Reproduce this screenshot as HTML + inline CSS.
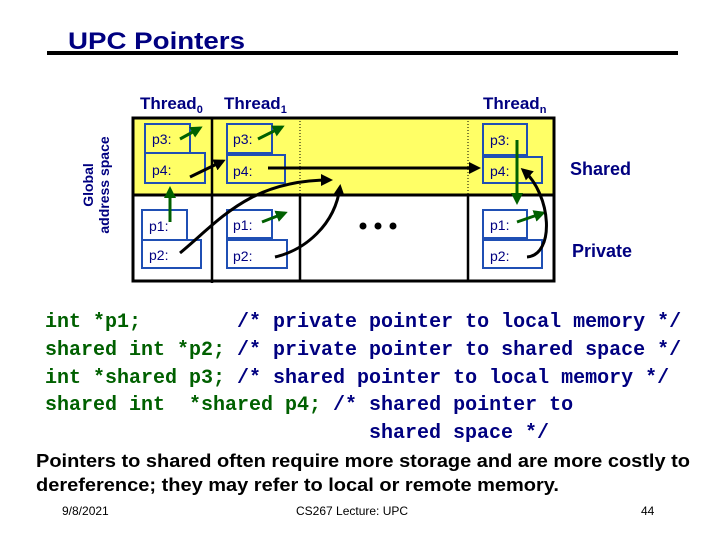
<!DOCTYPE html>
<html><head><style>
body{margin:0;background:#fff;}
svg{display:block;}
svg text{white-space:pre;}
</style></head><body>
<svg width="720" height="540" xmlns="http://www.w3.org/2000/svg" xml:space="preserve">
<defs>
<marker id="ab" markerWidth="4" markerHeight="4" refX="3" refY="2" orient="auto" markerUnits="strokeWidth"><path d="M0,0 L4,2 L0,4 z" fill="#000"/></marker>
<marker id="ag" markerWidth="4" markerHeight="4" refX="3" refY="2" orient="auto" markerUnits="strokeWidth"><path d="M0,0 L4,2 L0,4 z" fill="#006000"/></marker>
</defs>
<text x="68" y="49" font-family="Liberation Sans, sans-serif" font-weight="bold" font-size="24" fill="#000080" textLength="177" lengthAdjust="spacingAndGlyphs">UPC Pointers</text>
<line x1="47" y1="53" x2="678" y2="53" stroke="#000" stroke-width="4"/>
<g font-family="Liberation Sans, sans-serif" font-weight="bold" font-size="17" fill="#000080">
<text x="140" y="109">Thread<tspan font-size="11" dy="4">0</tspan></text>
<text x="224" y="109">Thread<tspan font-size="11" dy="4">1</tspan></text>
<text x="483" y="109">Thread<tspan font-size="11" dy="4">n</tspan></text>
</g>
<text transform="translate(93,185) rotate(-90)" text-anchor="middle" font-family="Liberation Sans, sans-serif" font-weight="bold" font-size="14" fill="#000080"><tspan x="0" y="0">Global</tspan><tspan x="0" y="16">address space</tspan></text>
<rect x="133" y="118" width="421" height="77" fill="#ffff66"/>
<line x1="300" y1="118" x2="300" y2="195" stroke="#000" stroke-dasharray="1,2"/>
<line x1="468" y1="118" x2="468" y2="195" stroke="#000" stroke-dasharray="1,2"/>
<rect x="133" y="118" width="421" height="163" fill="none" stroke="#000" stroke-width="3"/>
<line x1="133" y1="195" x2="554" y2="195" stroke="#000" stroke-width="3"/>
<line x1="212" y1="118" x2="212" y2="283" stroke="#000" stroke-width="2.5"/>
<line x1="300" y1="195" x2="300" y2="281" stroke="#000" stroke-width="2.5"/>
<line x1="468" y1="195" x2="468" y2="281" stroke="#000" stroke-width="2.5"/>
<g fill="none" stroke="#1f4fb4" stroke-width="2">
<rect x="145" y="124" width="45" height="29"/><rect x="145" y="153" width="60" height="30"/>
<rect x="142" y="210" width="45" height="30"/><rect x="142" y="240" width="59" height="28"/>
<rect x="227" y="124" width="45" height="29"/><rect x="227" y="155" width="58" height="28"/>
<rect x="227" y="210" width="45" height="28"/><rect x="227" y="240" width="60" height="28"/>
<rect x="483" y="124" width="44" height="31"/><rect x="483" y="157" width="59" height="26"/>
<rect x="483" y="210" width="44" height="28"/><rect x="483" y="240" width="59" height="28"/>
</g>
<g font-family="Liberation Sans, sans-serif" font-size="14" fill="#000080">
<text x="152" y="144">p3:</text><text x="152" y="175">p4:</text>
<text x="149" y="231">p1:</text><text x="149" y="260">p2:</text>
<text x="233" y="144">p3:</text><text x="233" y="176">p4:</text>
<text x="233" y="230">p1:</text><text x="233" y="261">p2:</text>
<text x="490" y="145">p3:</text><text x="490" y="176">p4:</text>
<text x="490" y="230">p1:</text><text x="490" y="261">p2:</text>
</g>
<g stroke="#006000" stroke-width="3" fill="none">
<line x1="180" y1="139" x2="200" y2="128" marker-end="url(#ag)"/>
<line x1="258" y1="139" x2="282" y2="127" marker-end="url(#ag)"/>
<line x1="262" y1="222" x2="285" y2="213" marker-end="url(#ag)"/>
<line x1="517" y1="222" x2="543" y2="213" marker-end="url(#ag)"/>
<line x1="170" y1="222" x2="170" y2="189" marker-end="url(#ag)"/>
<line x1="517" y1="140" x2="517" y2="202" marker-end="url(#ag)"/>
</g>
<g stroke="#000" stroke-width="3" fill="none">
<line x1="190" y1="177" x2="223" y2="161" marker-end="url(#ab)"/>
<line x1="268" y1="168" x2="478" y2="168" marker-end="url(#ab)"/>
<path d="M180,253 C220,220 250,180 330,180" marker-end="url(#ab)"/>
<path d="M275,257 C305,250 335,225 340,187" marker-end="url(#ab)"/>
<path d="M527,257 C555,255 552,195 523,170" marker-end="url(#ab)"/>
</g>
<g fill="#000"><circle cx="363" cy="226" r="3.5"/><circle cx="378" cy="226" r="3.5"/><circle cx="393" cy="226" r="3.5"/></g>
<g font-family="Liberation Sans, sans-serif" font-weight="bold" font-size="18" fill="#000080">
<text x="570" y="175">Shared</text><text x="572" y="257">Private</text>
</g>
<g font-family="Liberation Mono, monospace" font-weight="bold" font-size="20" fill="#006000">
<text x="45" y="327">int *p1;        <tspan fill="#000080">/* private pointer to local memory */</tspan></text>
<text x="45" y="355">shared int *p2; <tspan fill="#000080">/* private pointer to shared space */</tspan></text>
<text x="45" y="383">int *shared p3; <tspan fill="#000080">/* shared pointer to local memory */</tspan></text>
<text x="45" y="410">shared int  *shared p4; <tspan fill="#000080">/* shared pointer to</tspan></text>
<text x="369" y="438" fill="#000080">shared space */</text>
</g>
<g font-family="Liberation Sans, sans-serif" font-weight="bold" font-size="18" fill="#000">
<text x="36" y="467" textLength="654" lengthAdjust="spacingAndGlyphs">Pointers to shared often require more storage and are more costly to</text>
<text x="36" y="491" textLength="523" lengthAdjust="spacingAndGlyphs">dereference; they may refer to local or remote memory.</text>
</g>
<g font-family="Liberation Sans, sans-serif" font-size="12" fill="#000">
<text x="62" y="515">9/8/2021</text>
<text x="296" y="515">CS267 Lecture: UPC</text>
<text x="641" y="515">44</text>
</g>
</svg>
</body></html>
